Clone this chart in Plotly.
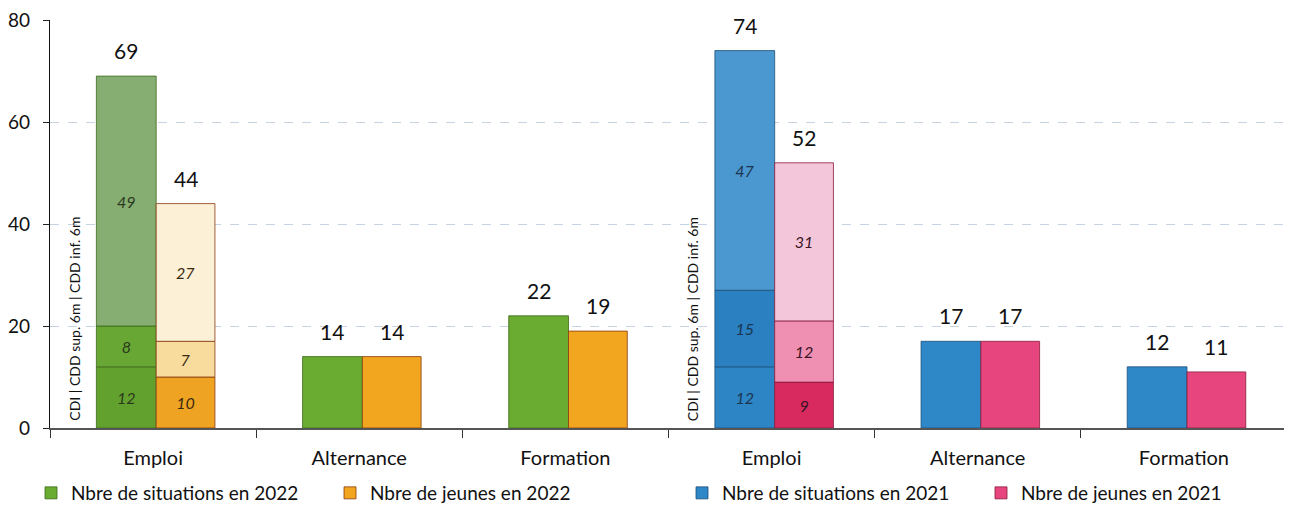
import plotly.graph_objects as go

# ---------------- data ----------------
categories = ["Emploi", "Alternance", "Formation"]
years = ["2022", "2021"]
segment_label = "CDI | CDD sup. 6m | CDD inf. 6m"

# Emploi breakdown: CDI, CDD sup. 6m, CDD inf. 6m
emploi_situations_2022 = [12, 8, 49]
emploi_jeunes_2022 = [10, 7, 27]
emploi_situations_2021 = [12, 15, 47]
emploi_jeunes_2021 = [9, 12, 31]

# Alternance, Formation
autres_situations_2022 = [14, 22]
autres_jeunes_2022 = [14, 19]
autres_situations_2021 = [17, 12]
autres_jeunes_2021 = [17, 11]

series_names = [
    "Nbre de situations en 2022",
    "Nbre de jeunes en 2022",
    "Nbre de situations en 2021",
    "Nbre de jeunes en 2021",
]
y_ticks = [0, 20, 40, 60, 80]

# ---------------- styling ----------------
FONT = "Lato, 'Open Sans', sans-serif"
W, H = 1284, 498  # page body has an 8px margin
series = [
    dict(name=series_names[0], year=0, side=0, emploi=emploi_situations_2022, autres=autres_situations_2022,
         seg_colors=["#63a12f", "#68a734", "#86ad72"], main="#6aab31", line="#3d6b1b", txt="#2a3a1c", legend="legend"),
    dict(name=series_names[1], year=0, side=1, emploi=emploi_jeunes_2022, autres=autres_jeunes_2022,
         seg_colors=["#eea322", "#f7dc9e", "#fcf0d6"], main="#f2a61f", line="#8a3a10", txt="#3a2a10", legend="legend2"),
    dict(name=series_names[2], year=1, side=0, emploi=emploi_situations_2021, autres=autres_situations_2021,
         seg_colors=["#2d85c5", "#2a80c0", "#4b97cf"], main="#2e88c8", line="#1c4f7a", txt="#1b3550", legend="legend3"),
    dict(name=series_names[3], year=1, side=1, emploi=emploi_jeunes_2021, autres=autres_jeunes_2021,
         seg_colors=["#d92a60", "#ef8fb1", "#f3c6da"], main="#e6467d", line="#8a1a3a", txt="#3a1424", legend="legend4"),
]
OFFSETS = [(-0.275, 0.29), (0.015, 0.285)]

fig = go.Figure()
annotations = []

for s in series:
    off, w = OFFSETS[s["side"]]
    base_pos = s["year"] * len(categories)
    cum = 0
    for k, v in enumerate(s["emploi"]):
        fig.add_trace(go.Bar(
            x=[base_pos + 0], y=[v], base=[cum], offset=off, width=w,
            marker=dict(color=s["seg_colors"][k], line=dict(color=s["line"], width=0.8)),
            text=[str(v)], textposition="inside", insidetextanchor="middle", textangle=0,
            textfont=dict(family=FONT, size=16, color=s["txt"], style="italic"),
            showlegend=False, legendgroup=s["name"], hoverinfo="skip",
        ))
        cum += v
    total_emploi = cum
    fig.add_trace(go.Bar(
        x=[base_pos + 1, base_pos + 2], y=s["autres"], offset=off, width=w,
        marker=dict(color=s["main"], line=dict(color=s["line"], width=0.8)),
        name=s["name"], legendgroup=s["name"], legend=s["legend"], showlegend=True,
    ))
    totals = [total_emploi] + list(s["autres"])
    for j, t in enumerate(totals):
        annotations.append(dict(
            x=base_pos + j + off + w / 2, y=t, xref="x", yref="y", text=str(t),
            showarrow=False, yanchor="bottom", yshift=11,
            font=dict(family=FONT, size=21, color="#111"),
        ))

for yi in range(len(years)):
    annotations.append(dict(
        x=yi * len(categories) - 0.38, y=1, xref="x", yref="y", text=segment_label,
        textangle=-90, showarrow=False, yanchor="bottom", xanchor="center",
        font=dict(family=FONT, size=14, color="#111"),
    ))

n = len(categories) * len(years)
legend_common = dict(orientation="h", yref="container", xref="container",
                     yanchor="middle", y=1 - 485 / H, xanchor="left",
                     font=dict(family=FONT, size=19, color="#111"), bgcolor="rgba(0,0,0,0)",
                     itemwidth=30)
leg_x = [23 / W, 322 / W, 674 / W, 973 / W]

fig.update_layout(
    width=W, height=H,
    margin=dict(l=42, r=5, t=12, b=78, autoexpand=False),
    paper_bgcolor="white", plot_bgcolor="white",
    barmode="overlay",
    font=dict(family=FONT, size=18, color="#111"),
    annotations=annotations,
    legend=dict(legend_common, x=leg_x[0]),
    legend2=dict(legend_common, x=leg_x[1]),
    legend3=dict(legend_common, x=leg_x[2]),
    legend4=dict(legend_common, x=leg_x[3]),
    xaxis=dict(
        range=[-0.5, n - 0.5], tickvals=list(range(n)), ticktext=categories * len(years),
        ticks="", showgrid=False, zeroline=False, automargin=False,
        showline=True, linecolor="#555", linewidth=1.5, ticklabelstandoff=11,
        tickfont=dict(family=FONT, size=20, color="#111"),
        minor=dict(tickvals=[i - 0.5 for i in range(n + 1)], ticks="outside", ticklen=8,
                   tickcolor="#333", tickwidth=1.2, showgrid=False),
    ),
    yaxis=dict(
        range=[0, 80], tickvals=y_ticks, ticks="outside", ticklen=6, tickcolor="#222",
        showline=True, linecolor="#111", linewidth=1.2, automargin=False,
        ticklabelstandoff=9, ticklabeloverflow="allow",
        showgrid=True, gridcolor="#c5d3e2", griddash="dash", gridwidth=1,
        zeroline=False, tickfont=dict(family=FONT, size=19, color="#111"),
    ),
)

fig.write_html("out.html")
